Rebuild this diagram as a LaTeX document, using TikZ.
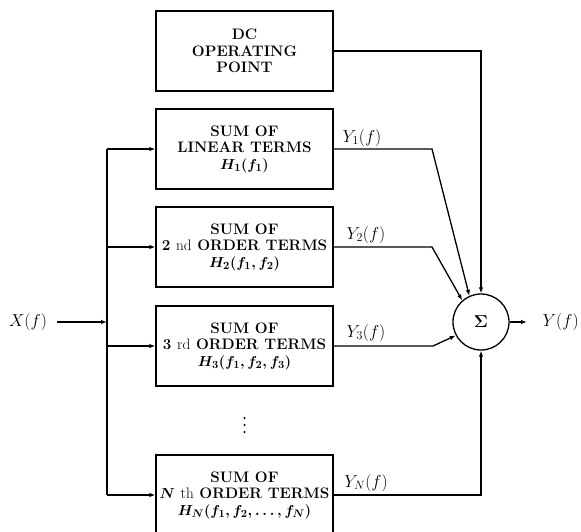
\documentclass[tikz,border=0pt]{standalone}
\usepackage{amsmath}
\usetikzlibrary{arrows.meta,calc}
\begin{document}
\begin{tikzpicture}[x=1pt,y=-1pt,line width=1.3pt,
  blk/.style={draw,minimum width=177pt,minimum height=80pt,align=center,inner sep=0pt,
    font=\fontsize{15.2}{16.5}\selectfont\bfseries\boldmath},
  arr/.style={-{Latex[length=6pt,width=4.5pt]}},
  lbl/.style={font=\fontsize{17}{18}\selectfont}]
\clip (0,0) rectangle (581,531);
\useasboundingbox (0,0) rectangle (581,531);
% blocks
\node[blk] (dc) at (244.5,51) {DC\\OPERATING\\POINT};
\node[blk] (b1) at (244.5,149) {SUM OF\\LINEAR TERMS\\$H_1(f_1)$};
\node[blk] (b2) at (244.5,247) {SUM OF\\2 {\mdseries nd} ORDER TERMS\\$H_2(f_1,f_2)$};
\node[blk] (b3) at (244.5,346) {SUM OF\\3 {\mdseries rd} ORDER TERMS\\$H_3(f_1,f_2,f_3)$};
\node[blk] (bn) at (244.5,495) {SUM OF\\$N$ {\mdseries th} ORDER TERMS\\$H_N(f_1,f_2,\ldots,f_N)$};
\foreach \yy in {418,425,432} \fill (244.5,\yy) circle (1.2pt);
% summer
\node[draw,circle,minimum size=56pt,inner sep=0pt,lbl] (s) at (481,322) {$\boldsymbol{\Sigma}$};
% input
\node[lbl] (x) at (28,322) {$X(f)$};
\coordinate (xs) at (57,322);
\coordinate (xj) at (107,322);
\coordinate (bt) at (107,149);
\coordinate (bb) at (107,495);
\draw[arr] (xs) -- (xj);
\draw (bt) -- (bb);
\draw[arr] (bt) -- (b1.west);
\draw[arr] (b2.west -| bt) -- (b2.west);
\draw[arr] (b3.west -| bt) -- (b3.west);
\draw[arr] (bb) -- (bn.west);
% outputs of blocks
\coordinate (c1) at (432,149);
\coordinate (c2) at (432,247);
\coordinate (c3) at (433,346);
\draw[arr] (dc.east) -- (dc.east -| s.north) -- (s.north);
\draw[arr] (b1.east) -- (c1) -- (s.114);
\draw[arr] (b2.east) -- (c2) -- (s.131);
\draw[arr] (b3.east) -- (c3) -- (s.208);
\draw[arr] (bn.east) -- (bn.east -| s.south) -- (s.south);
\node[lbl] (y1) at (362,138) {$Y_1(f)$};
\node[lbl] (y2) at (366,235) {$Y_2(f)$};
\node[lbl] (y3) at (366,333) {$Y_3(f)$};
\node[lbl] (yn) at (366,483) {$Y_N(f)$};
% output
\coordinate (yo) at (527,322);
\draw[arr] (s.east) -- (yo);
\node[lbl,anchor=west,inner sep=0pt] (y) at (542,322) {$Y(f)$};
\end{tikzpicture}
\end{document}
